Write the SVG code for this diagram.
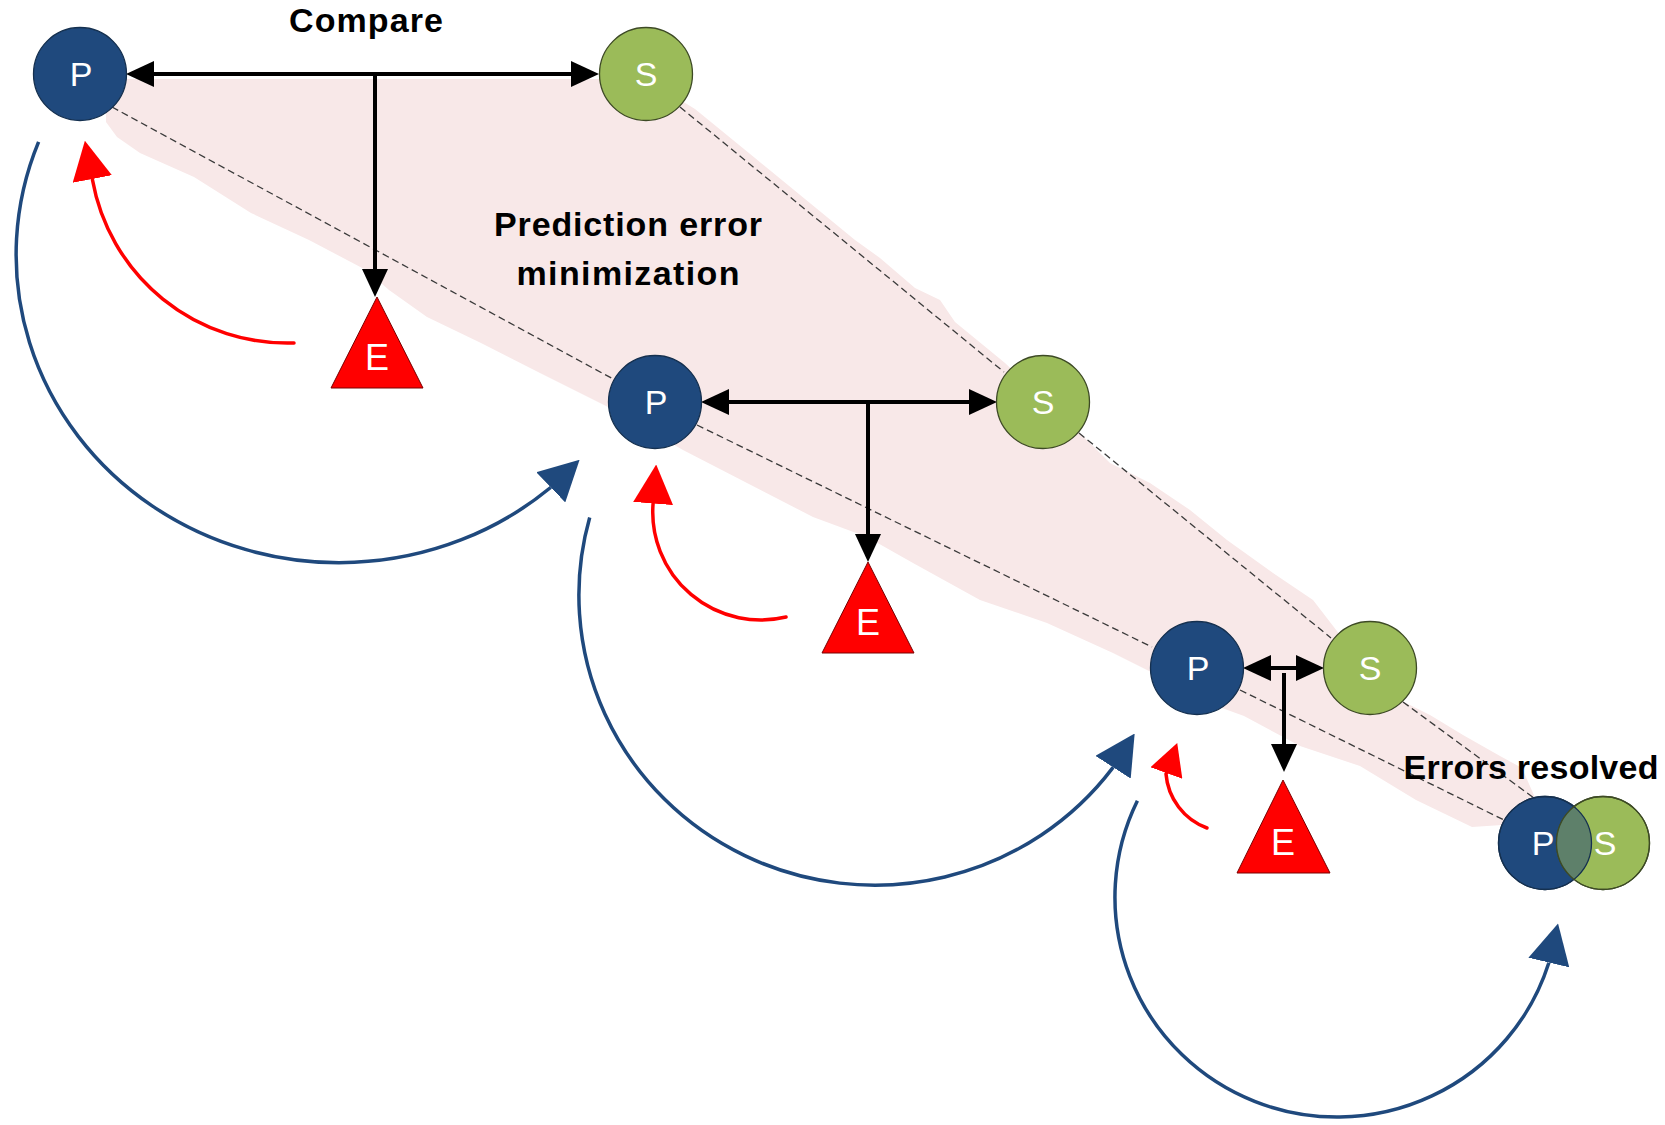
<svg xmlns="http://www.w3.org/2000/svg" width="1665" height="1125" viewBox="0 0 1665 1125">
<style>
.band{fill:#F8E8E8}
.dash{stroke:#3a3a3a;stroke-width:1.3;stroke-dasharray:7 4;fill:none}
.pnode{fill:#1F497D;stroke:#15304f;stroke-width:1.3}
.snode{fill:#9BBB59;stroke:#3d4a25;stroke-width:1.3}
.ovl{fill:#5E806A}
.ring{fill:none;stroke-width:1.3}
.enode{fill:#FF0000;stroke:#7a0000;stroke-width:1}
.lbl{font-family:"Liberation Sans",Arial,sans-serif;fill:#fff;text-anchor:middle;font-size:34px}
.elbl{font-family:"Liberation Sans",Arial,sans-serif;fill:#fff;text-anchor:middle;font-size:36px}
.title{font-family:"Liberation Sans",Arial,sans-serif;font-weight:bold;font-size:34px;fill:#000;text-anchor:middle}
.blk{stroke:#000;stroke-width:4;fill:none}
.blue{stroke:#1F497D;stroke-width:3.5;fill:none;marker-end:url(#ahBlue)}
.red{stroke:#FF0000;stroke-width:3.5;fill:none;stroke-linecap:round}
</style>
<defs>
<marker id="ahBlack" markerUnits="userSpaceOnUse" viewBox="0 0 28 26" markerWidth="28" markerHeight="26" refX="0" refY="13" orient="auto-start-reverse"><path d="M0,0 L28,13 L0,26 z" fill="#000"/></marker>
<marker id="ahBlue" markerUnits="userSpaceOnUse" viewBox="0 0 40 42" markerWidth="40" markerHeight="42" refX="0" refY="21" orient="auto"><path d="M0,0 L40,21 L0,42 z" fill="#1F497D"/></marker>
<marker id="ahRed" markerUnits="userSpaceOnUse" viewBox="0 0 39 40" markerWidth="39" markerHeight="40" refX="0" refY="20" orient="auto"><path d="M0,0 L39,20 L0,40 z" fill="#FF0000"/></marker>
<marker id="ahRedS" markerUnits="userSpaceOnUse" viewBox="0 0 32 34" markerWidth="32" markerHeight="34" refX="0" refY="17" orient="auto"><path d="M0,0 L32,17 L0,34 z" fill="#FF0000"/></marker>
<clipPath id="clipS4"><circle cx="1603" cy="843" r="46.5"/></clipPath>
</defs>

<g id="band">
<path class="band" d="M112 79 L646 79 L695 109 L755 158 L805 199 L855 240 L880 258 L915 288 L940 300 L955 322 L1005 363 L1060 415 L1090 443 L1110 463 L1150 483 L1190 510 L1227 540 L1273 573 L1313 600 L1340 635 L1400 700 L1430 715 L1463 735 L1500 756 L1522 768 L1536 800 L1502 825 L1472 827 L1416 800 L1360 766 L1300 746 L1244 716 L1200 700 L1153 673 L1113 653 L1047 623 L980 600 L913 563 L867 537 L813 517 L747 483 L683 450 L640 425 L608 407 L540 373 L481 343 L427 317 L389 290 L366 270 L309 240 L251 213 L194 177 L140 153 L117 137 L106 122 L106 100 Z"/>
</g>

<g id="guides">
<line class="dash" x1="112" y1="107" x2="615" y2="380"/>
<line class="dash" x1="697" y1="425" x2="1152" y2="647"/>
<line class="dash" x1="1240" y1="690" x2="1504" y2="820"/>
<line class="dash" x1="680" y1="107" x2="1004" y2="372"/>
<line class="dash" x1="1079" y1="433" x2="1331" y2="638"/>
<line class="dash" x1="1403" y1="702" x2="1534" y2="798"/>
</g>

<g id="connectors">
<path class="blue" d="M38.6 141.8 A323 308 0 0 0 550 488 l0.72 -0.69"/>
<path class="blue" d="M589.7 517.5 A296 290 0 0 0 1112.5 768.1 l0.54 -0.84"/>
<path class="blue" d="M1137.4 800.7 A222 220 0 1 0 1548.6 963.5 l0.23 -0.97"/>
<path class="red" marker-end="url(#ahRed)" d="M294 343 A198 198 0 0 1 92.5 180 l-0.19 -0.98"/>
<path class="red" marker-end="url(#ahRed)" d="M786 617 A108 108 0 0 1 653 504.5 l0.08 -1"/>
<path class="red" marker-end="url(#ahRedS)" d="M1207 828 A63 63 0 0 1 1166 774 l0.34 -0.94"/>
<line class="blk" x1="154" y1="74" x2="571" y2="74" marker-start="url(#ahBlack)" marker-end="url(#ahBlack)"/>
<line class="blk" x1="375" y1="74" x2="375" y2="269" marker-end="url(#ahBlack)"/>
<line class="blk" x1="729" y1="402" x2="969" y2="402" marker-start="url(#ahBlack)" marker-end="url(#ahBlack)"/>
<line class="blk" x1="868" y1="402" x2="868" y2="534" marker-end="url(#ahBlack)"/>
<line class="blk" x1="1271" y1="668" x2="1296" y2="668" marker-start="url(#ahBlack)" marker-end="url(#ahBlack)"/>
<line class="blk" x1="1284" y1="673" x2="1284" y2="744" marker-end="url(#ahBlack)"/>
</g>

<g id="P1"><circle class="pnode" cx="80" cy="74" r="46.5"/><text class="lbl" x="81" y="86">P</text></g>
<g id="S1"><circle class="snode" cx="646" cy="74" r="46.5"/><text class="lbl" x="646" y="86">S</text></g>
<g id="E1"><polygon class="enode" points="377,297 331,388 423,388"/><text class="elbl" x="377" y="370">E</text></g>

<g id="P2"><circle class="pnode" cx="655" cy="402" r="46.5"/><text class="lbl" x="656" y="414">P</text></g>
<g id="S2"><circle class="snode" cx="1043" cy="402" r="46.5"/><text class="lbl" x="1043" y="414">S</text></g>
<g id="E2"><polygon class="enode" points="868,562 822,653 914,653"/><text class="elbl" x="868" y="635">E</text></g>

<g id="P3"><circle class="pnode" cx="1197" cy="668" r="46.5"/><text class="lbl" x="1198" y="680">P</text></g>
<g id="S3"><circle class="snode" cx="1370" cy="668" r="46.5"/><text class="lbl" x="1370" y="680">S</text></g>
<g id="E3"><polygon class="enode" points="1283,780 1237,873 1330,873"/><text class="elbl" x="1283" y="855">E</text></g>

<g id="PS4">
<circle class="pnode" cx="1545" cy="843" r="46.5"/>
<circle class="snode" cx="1603" cy="843" r="46.5"/>
<circle class="ovl" cx="1545" cy="843" r="46.5" clip-path="url(#clipS4)"/>
<circle class="ring" stroke="#15304f" cx="1545" cy="843" r="46.5"/>
<circle class="ring" stroke="#3d4a25" cx="1603" cy="843" r="46.5"/>
<text class="lbl" x="1543" y="855">P</text>
<text class="lbl" x="1605" y="855">S</text>
</g>

<g id="labels">
<text class="title" x="366" y="32" textLength="154">Compare</text>
<text class="title" x="628" y="236" textLength="268">Prediction error</text>
<text class="title" x="628" y="285" textLength="223">minimization</text>
<text class="title" x="1531" y="779" textLength="255">Errors resolved</text>
</g>
</svg>
